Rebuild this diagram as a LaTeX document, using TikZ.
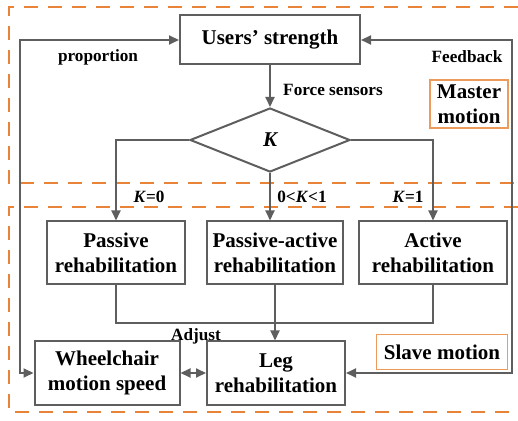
\documentclass[tikz,border=0pt]{standalone}
\usepackage{fontspec}
\setmainfont{Liberation Serif}
\usepackage{tikz}
\usetikzlibrary{arrows.meta,positioning,shapes.geometric}

\definecolor{linegray}{HTML}{5E5E5E}
\definecolor{dashorange}{HTML}{E8843A}
\definecolor{boxorange}{HTML}{EE9A5A}

\tikzset{
  block/.style={draw=linegray,line width=1pt,fill=white,align=center,
    font=\fontsize{10.5}{12.5}\selectfont\bfseries,inner sep=1pt},
  decision/.style={diamond,draw=linegray,line width=1pt,inner sep=0pt,
    aspect=2.5,minimum width=80pt,minimum height=32pt,
    font=\fontsize{10.5}{12.5}\selectfont\bfseries\itshape},
  tag/.style={draw=boxorange,line width=0.9pt,align=center,inner sep=1pt,
    font=\fontsize{10.5}{12.5}\selectfont\bfseries},
  lbl/.style={font=\fontsize{8.6}{10}\selectfont\bfseries,inner sep=0pt},
  link/.style={draw=linegray,line width=1pt,-{Triangle[length=5pt,width=4.5pt]}},
  plain/.style={draw=linegray,line width=1pt},
  region/.style={draw=dashorange,line width=1.2pt,dash pattern=on 7pt off 5pt}
}

\begin{document}
\begin{tikzpicture}[x=0.5pt,y=-0.5pt]
  \useasboundingbox (0,0) rectangle (518,421);
  \draw[region] (518,7) -- (9,7) -- (9,183) -- (518,183);
  \draw[region] (518,207) -- (9,207) -- (9,412) -- (518,412);

  \node[block,minimum width=90pt,minimum height=24.5pt] (users) at (270,40) {Users' strength};
  \node[decision] (K) at (270,140) {K};
  \node[block,minimum width=69pt,minimum height=31.5pt] (passive) at (116,253) {Passive\\rehabilitation};
  \node[block,minimum width=68pt,minimum height=31.5pt] (pasact) at (275,253) {Passive-active\\rehabilitation};
  \node[block,minimum width=74pt,minimum height=31.5pt] (active) at (433,253) {Active\\rehabilitation};
  \node[block,minimum width=72.5pt,minimum height=31.5pt] (wheel) at (107,373) {Wheelchair\\motion speed};
  \node[block,minimum width=69pt,minimum height=31.5pt] (leg) at (276,373) {Leg\\rehabilitation};
  \node[tag,minimum width=39pt,minimum height=24pt] (master) at (469,104) {Master\\motion};
  \node[tag,minimum width=65.5pt,minimum height=17.5pt] (slave) at (442,352) {Slave motion};

  \node[lbl] (prop) at (98,57) {proportion};
  \node[lbl] (fb) at (467,57) {Feedback};
  \node[lbl] (force) at (333,90) {Force sensors};
  \node[lbl] (k0) at (149,197) {\textit{K}=0};
  \node[lbl] (kmid) at (302,197) {0<\textit{K}<1};
  \node[lbl] (k1) at (408,197) {\textit{K}=1};
  \node[lbl] (adj) at (196,336) {Adjust};

  \coordinate (lft) at (20,40);
  \coordinate (rgt) at (512,40);
  \coordinate (join) at (116,323);

  \draw[link] (users) -- (K);
  \draw[link] (K.west) -| (passive.north);
  \draw[link] (K.east) -| (active.north);
  \draw[link] (K.south) -- (K.south |- pasact.north);
  \draw[plain] (passive.south) |- (join) -| (active.south);
  \draw[link] (pasact.south) -- (pasact.south |- leg.north);
  \draw[link,{Triangle[length=5pt,width=4.5pt]}-{Triangle[length=5pt,width=4.5pt]}] (wheel) -- (leg);
  \draw[link,{Triangle[length=5pt,width=4.5pt]}-{Triangle[length=5pt,width=4.5pt]}] (users.west) -- (lft) |- (wheel.west);
  \draw[link,{Triangle[length=5pt,width=4.5pt]}-{Triangle[length=5pt,width=4.5pt]}] (users.east) -- (rgt) |- (leg.east);
\end{tikzpicture}
\end{document}
